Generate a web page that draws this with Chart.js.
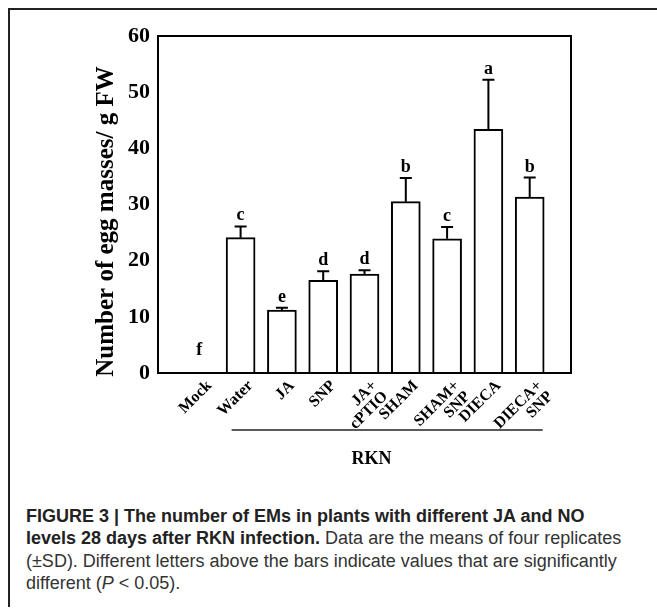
<!DOCTYPE html>
<html>
<head>
<meta charset="utf-8">
<script src="https://cdn.jsdelivr.net/npm/chart.js@4.4.1/dist/chart.umd.min.js"></script>
<style>
  body { margin: 0; background: #fff; }
  #frame { position: absolute; left: 8px; top: 8px; width: 660px; height: 597px;
           border-left: 2px solid #222; border-top: 2px solid #222; }
  #fig { position: absolute; left: 0; top: 0; }
  #caption { position: absolute; left: 26px; top: 505px; width: 628px;
             font: 18px 'Liberation Sans', Arial, sans-serif; line-height: 22.4px; color: #333;
             white-space: nowrap; }
  #caption b { color: #222; }
</style>
</head>
<body>
<div id="frame"></div>
<canvas id="fig" width="657" height="500"></canvas>
<div id="caption"><b>FIGURE 3 | The number of EMs in plants with different JA and NO<br>levels 28 days after RKN infection.</b> Data are the means of four replicates<br>(±SD). Different letters above the bars indicate values that are significantly<br>different (<i>P</i> &lt; 0.05).</div>
<script>
const CATEGORIES = ['Mock', 'Water', 'JA', 'SNP', ['JA+', 'cPTIO'], 'SHAM', ['SHAM+', 'SNP'], 'DIECA', ['DIECA+', 'SNP']];
const MEANS = [0, 24.1, 11.2, 16.5, 17.6, 30.5, 23.9, 43.4, 31.3];
const SD = [0, 2.0, 0.4, 1.6, 0.7, 4.2, 2.1, 8.8, 3.5];
const LETTERS = ['f', 'c', 'e', 'd', 'd', 'b', 'c', 'a', 'b'];
const Y_TICKS = [0, 10, 20, 30, 40, 50, 60];
const Y_TITLE = 'Number of egg masses/ g FW';
const GROUP_LABEL = 'RKN';

const SERIF = "'Liberation Serif', 'Times New Roman', serif";

// empty slots at both ends give the extra space inside the frame
const labels = [''].concat(CATEGORIES, ['']);
const values = [null].concat(MEANS, [null]);

const extras = {
  id: 'extras',
  afterDatasetsDraw(chart) {
    const ctx = chart.ctx, y = chart.scales.y, area = chart.chartArea;
    const bars = chart.getDatasetMeta(0).data;
    ctx.save();
    ctx.strokeStyle = '#000';
    ctx.fillStyle = '#000';
    ctx.lineWidth = 2;
    MEANS.forEach((m, i) => {
      const x = bars[i + 1].x;
      const yTop = y.getPixelForValue(m);
      const yErr = y.getPixelForValue(m + SD[i]);
      if (SD[i] > 0) {
        ctx.beginPath();
        ctx.moveTo(x, yTop);
        ctx.lineTo(x, yErr);
        ctx.moveTo(x - 6, yErr);
        ctx.lineTo(x + 6, yErr);
        ctx.stroke();
      }
      ctx.font = 'bold 18px ' + SERIF;
      ctx.textAlign = 'center';
      ctx.textBaseline = 'alphabetic';
      const ly = Math.min(yErr - 6, y.getPixelForValue(0) - 18);
      ctx.fillText(LETTERS[i], x, ly);
    });
    ctx.strokeRect(area.left, area.top, area.right - area.left, area.bottom - area.top);
    ctx.restore();
  },
  afterDraw(chart) {
    const ctx = chart.ctx, area = chart.chartArea;
    const bars = chart.getDatasetMeta(0).data;
    ctx.save();
    ctx.fillStyle = '#000';
    ctx.font = 'bold 25px ' + SERIF;
    ctx.textAlign = 'center';
    ctx.textBaseline = 'middle';
    ctx.translate(107, (area.top + area.bottom) / 2 + 17);
    ctx.rotate(-Math.PI / 2);
    ctx.fillText(Y_TITLE, 0, 0);
    ctx.restore();

    ctx.save();
    const lineY = area.bottom + 57;
    ctx.strokeStyle = '#222';
    ctx.lineWidth = 1.5;
    ctx.beginPath();
    ctx.moveTo(bars[2].x - 9, lineY);
    ctx.lineTo(bars[9].x + 13, lineY);
    ctx.stroke();
    ctx.fillStyle = '#000';
    ctx.font = 'bold 18px ' + SERIF;
    ctx.textAlign = 'center';
    ctx.textBaseline = 'middle';
    ctx.fillText(GROUP_LABEL, area.left + (area.right - area.left) * 0.517, area.bottom + 86);
    ctx.restore();
  }
};

new Chart(document.getElementById('fig'), {
  type: 'bar',
  data: {
    labels: labels,
    datasets: [{
      data: values,
      backgroundColor: '#fff',
      borderColor: '#000',
      borderWidth: 2,
      barThickness: 29
    }]
  },
  options: {
    responsive: false,
    animation: false,
    devicePixelRatio: 1,
    layout: { padding: { left: 0, top: 36, right: 86, bottom: 0 } },
    plugins: { legend: { display: false }, tooltip: { enabled: false } },
    scales: {
      x: {
        offset: false,
        grid: { display: false, drawTicks: false },
        border: { display: false },
        ticks: {
          autoSkip: false,
          minRotation: 45,
          maxRotation: 45,
          labelOffset: 10,
          padding: 5,
          color: '#000',
          font: { family: SERIF, size: 16, weight: 'bold', lineHeight: 0.95 }
        },
        afterFit(s) { s.height = 127; }
      },
      y: {
        min: 0,
        max: 60,
        grid: { display: false, drawTicks: false },
        border: { display: false },
        ticks: {
          padding: 8,
          color: '#000',
          font: { family: SERIF, size: 22, weight: 'bold' }
        },
        afterBuildTicks(s) { s.ticks = Y_TICKS.map(v => ({ value: v })); },
        afterFit(s) { s.width = 158; }
      }
    }
  },
  plugins: [extras]
});
</script>
</body>
</html>
